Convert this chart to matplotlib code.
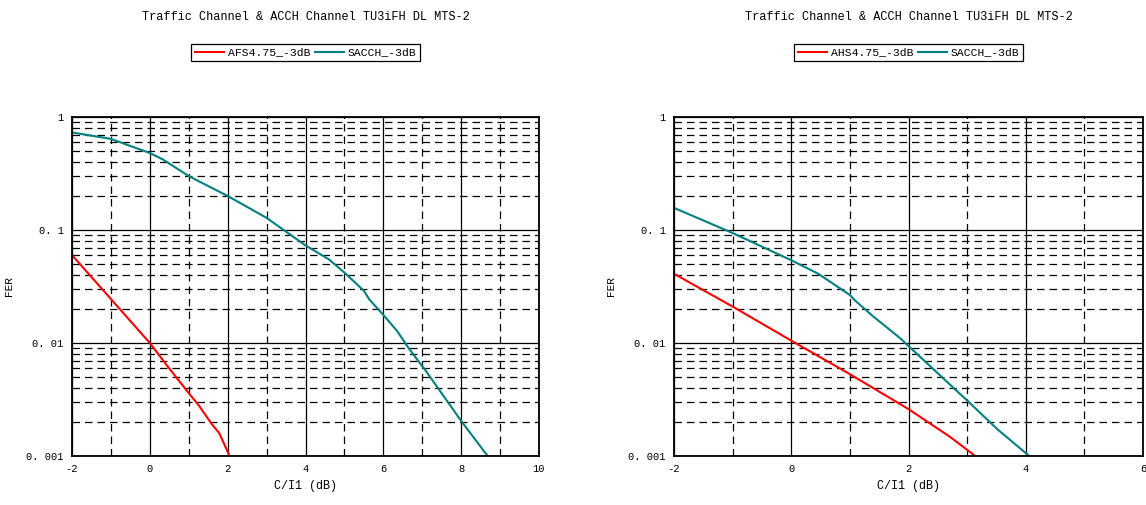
import numpy as np
import matplotlib
matplotlib.use("Agg")
import matplotlib.pyplot as plt
from matplotlib.ticker import FixedLocator, NullFormatter

plt.rcParams["font.family"] = ["Liberation Mono", "DejaVu Sans"]

title = "Traffic Channel & ACCH Channel TU3iFH DL MTS-2"

# left panel: full-rate
l_red_x = [-2, -1, 0, 0.46, 1, 1.26, 1.6, 1.78, 2.05]
l_red_y = [0.06, 0.0245, 0.01, 0.0062, 0.0036, 0.0028, 0.0019, 0.0016, 0.001]
l_teal_x = [-2, -1, 0, 0.34, 1, 2, 3, 3.86, 4, 4.6, 5, 5.5, 5.64, 5.99, 6.36, 6.65, 7.07, 8.02, 8.68]
l_teal_y = [0.73, 0.64, 0.48, 0.42, 0.30, 0.20, 0.128, 0.079, 0.073, 0.055, 0.042, 0.029, 0.0243,
            0.0179, 0.0127, 0.009, 0.0058, 0.002, 0.001]
l_labels = ["AFS4.75_-3dB", "SACCH_-3dB"]

# right panel: half-rate
r_red_x = [-2, -1, 0, 1, 2, 2.69, 3.14]
r_red_y = [0.041, 0.021, 0.0105, 0.0053, 0.0026, 0.0015, 0.001]
r_teal_x = [-2, -1, 0, 0.46, 1, 1.08, 1.38, 1.86, 2.0, 2.45, 3.0, 3.53, 4.06]
r_teal_y = [0.157, 0.094, 0.054, 0.041, 0.0266, 0.024, 0.0175, 0.011, 0.0094, 0.0057, 0.0031,
            0.0017, 0.001]
r_labels = ["AHS4.75_-3dB", "SACCH_-3dB"]

RED = "#ff0000"
TEAL = "#008080"
W, H = 1146, 505


def setup(ax, xmax):
    ax.set_yscale("log")
    ax.set_xlim(-2, xmax)
    ax.set_ylim(0.001, 1)
    ax.set_xticks(np.arange(-2, xmax + 1, 2))
    ax.set_xticklabels([str(int(v)) for v in np.arange(-2, xmax + 1, 2)])
    ax.xaxis.set_minor_locator(FixedLocator(np.arange(-1, xmax, 2)))
    ax.set_yticks([0.001, 0.01, 0.1, 1])
    ax.set_yticklabels(["0. 001", "0. 01", "0. 1", "1"])
    minors = [m * 10.0 ** e for e in (-3, -2, -1) for m in range(2, 10)]
    ax.yaxis.set_minor_locator(FixedLocator(minors))
    ax.yaxis.set_minor_formatter(NullFormatter())
    ax.tick_params(which="both", length=0, labelsize=7.5, pad=6)
    ax.grid(True, which="major", color="black", lw=0.9, ls="-")
    ax.grid(True, which="minor", color="black", lw=0.9, ls=(0, (6, 4)))
    ax.set_axisbelow(True)
    for s in ax.spines.values():
        s.set_linewidth(1.3)
        s.set_color("black")
    ax.set_xlabel("C/I1 (dB)", fontsize=8.5, labelpad=4)
    ax.set_ylabel("FER", fontsize=8)
    ax.yaxis.set_label_coords(-58 / 467, 0.5)


fig = plt.figure(figsize=(W / 100, H / 100), dpi=100)
ax1 = fig.add_axes([72 / W, 49 / H, 467 / W, 339 / H])
ax2 = fig.add_axes([674 / W, 49 / H, 469 / W, 339 / H])

for ax, xmax, rx, ry, tx, ty, labs in [
    (ax1, 10, l_red_x, l_red_y, l_teal_x, l_teal_y, l_labels),
    (ax2, 6, r_red_x, r_red_y, r_teal_x, r_teal_y, r_labels),
]:
    setup(ax, xmax)
    ax.plot(rx, ry, color=RED, lw=1.5, label=labs[0])
    ax.plot(tx, ty, color=TEAL, lw=1.5, label=labs[1])
    ax.text(0.5, 1.295, title, transform=ax.transAxes, ha="center", va="center", fontsize=8.6)
    leg = ax.legend(loc="center", bbox_to_anchor=(0.5, 1.19), ncol=2, fontsize=8.2,
                    frameon=True, fancybox=False, edgecolor="black", framealpha=1,
                    handlelength=2.6, handletextpad=0.3, columnspacing=0.4,
                    borderpad=0.3, borderaxespad=0)
    leg.get_frame().set_linewidth(0.9)

fig.savefig("out.png", dpi=100)
